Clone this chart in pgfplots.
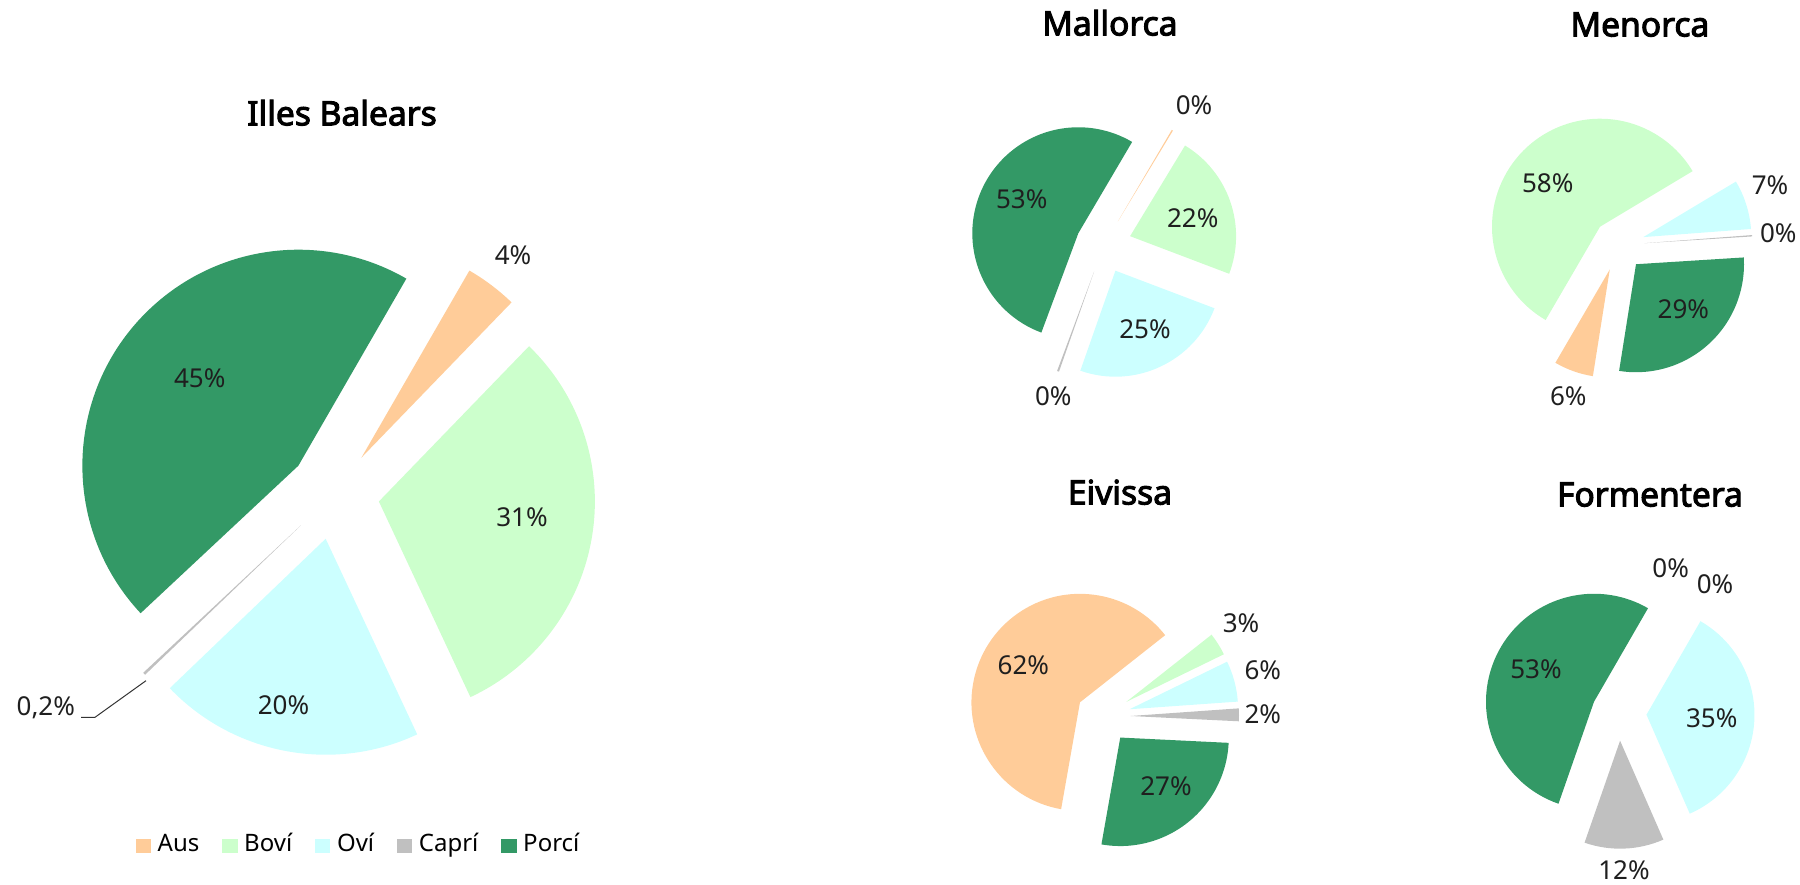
\documentclass[border=0pt]{standalone}
\usepackage{pgfplots}
\pgfplotsset{compat=1.18}
\usepackage{pgfplotstable}
\usepackage{fontspec}
\setmainfont{Noto Sans}[AutoFakeBold=3]
\definecolor{c0}{HTML}{FFCC99}
\definecolor{c1}{HTML}{CCFFCC}
\definecolor{c2}{HTML}{CCFFFF}
\definecolor{c3}{HTML}{C0C0C0}
\definecolor{c4}{HTML}{339966}

% columns: category, share (%), printed label, label position (reference pixels, y downward)
\pgfplotstableread{
cat val lab lx ly
Aus 3.9 4 513 257
Bovi 30.8 31 522 519
Ovi 19.8 20 283.5 707
Capri 0.2 0,2 45.8 708.3
Porci 45.3 45 199.7 380
}\balears
\pgfplotstableread{
cat val lab lx ly
Aus 0.2 0 1194 107.3
Bovi 22.1 22 1192.7 220
Ovi 24.6 25 1145 331.7
Capri 0.3 0 1053.3 398.3
Porci 52.8 53 1021.7 201.7
}\mallorca
\pgfplotstableread{
cat val lab lx ly
Aus 5.9 6 1568.3 398.3
Bovi 58.0 58 1547.7 185
Ovi 7.4 7 1770 187.7
Capri 0.2 0 1778.3 235
Porci 28.5 29 1683.3 311.7
}\menorca
\pgfplotstableread{
cat val lab lx ly
Aus 61.6 62 1023.3 667.3
Bovi 3.4 3 1241 625.7
Ovi 6.1 6 1262.8 672.7
Capri 1.9 2 1262.8 716.3
Porci 27.0 27 1166 788.3
}\eivissa
\pgfplotstableread{
cat val lab lx ly
Aus 0 0 1670.7 570
Bovi 0 0 1715 586.7
Ovi 35.1 35 1711.7 720
Capri 11.9 12 1624 872
Porci 53.0 53 1536 671.7
}\formentera

% #1 table, #2 centre x, #3 centre y (pixels, downward), #4 radius, #5 explosion, #6 first slice bearing
\newcommand\pie[6]{%
  \pgfplotstablegetrowsof{#1}%
  \pgfmathtruncatemacro\pieLast{\pgfplotsretval-1}%
  \pgfmathsetmacro\pieCur{#6}%
  \pgfmathsetmacro\pieRR{#4*0.5}%
  \pgfplotsforeachungrouped \pieIdx in {0,...,\pieLast}{%
    \pgfplotstablegetelem{\pieIdx}{val}\of{#1}\let\pieVal\pgfplotsretval
    \pgfmathsetmacro\pieNext{\pieCur+3.6*\pieVal}%
    \pgfmathsetmacro\pieTa{90-\pieCur}%
    \pgfmathsetmacro\pieTb{90-\pieNext}%
    \pgfmathsetmacro\pieTm{90-(\pieCur+\pieNext)/2}%
    \pgfmathsetmacro\pieAx{#2+#5*cos(\pieTm)}%
    \pgfmathsetmacro\pieAy{884-#3+#5*sin(\pieTm)}%
    \pgfmathsetmacro\piePx{\pieAx+#4*cos(\pieTa)}%
    \pgfmathsetmacro\piePy{\pieAy+#4*sin(\pieTa)}%
    \pgfmathtruncatemacro\piePos{\pieVal>0}%
    \ifnum\piePos=1
      \edef\pieDo{\noexpand\fill[c\pieIdx] (axis cs:\pieAx,\pieAy) -- (axis cs:\piePx,\piePy) arc[start angle=\pieTa, end angle=\pieTb, radius=\pieRR pt] -- cycle;}%
      \pieDo
    \fi
    \pgfplotstablegetelem{\pieIdx}{lab}\of{#1}\let\pieLab\pgfplotsretval
    \pgfplotstablegetelem{\pieIdx}{lx}\of{#1}\let\pieLx\pgfplotsretval
    \pgfplotstablegetelem{\pieIdx}{ly}\of{#1}\let\pieLy\pgfplotsretval
    \pgfmathsetmacro\pieLyy{884-\pieLy}%
    \edef\pieDo{\noexpand\node[lbl] at (axis cs:\pieLx,\pieLyy) {\pieLab\noexpand\%};}%
    \pieDo
    \let\pieCur\pieNext
  }%
}

\begin{document}
\begin{tikzpicture}[
  lbl/.style={font=\fontsize{13}{15}\selectfont, text=black!88, inner sep=0pt, anchor=center, text height=0.714em, text depth=0pt},
  ttl/.style={font=\fontsize{16.8}{19}\selectfont\bfseries, text=black, inner sep=0pt, anchor=center, text height=0.714em, text depth=0pt}]
\begin{axis}[
  x=0.5pt, y=0.5pt,
  xmin=0, xmax=1800, ymin=0, ymax=884,
  hide axis, clip=false,
  legend columns=5,
  legend cell align=left,
  legend style={at={(0.1986,0.0430)}, anchor=center, draw=none, fill=none,
    font=\fontsize{12}{14}\selectfont,
    nodes={inner sep=0pt, text height=0.83em, text depth=0.25em},
    /tikz/every odd column/.append style={column sep=3.4pt},
    /tikz/every even column/.append style={column sep=11.3pt}},
]
\addlegendimage{legend image code/.code={\fill[c0] (0pt,-3.4pt) rectangle (7.3pt,3.4pt);}}
\addlegendentry{Aus}
\addlegendimage{legend image code/.code={\fill[c1] (0pt,-3.4pt) rectangle (7.3pt,3.4pt);}}
\addlegendentry{Boví}
\addlegendimage{legend image code/.code={\fill[c2] (0pt,-3.4pt) rectangle (7.3pt,3.4pt);}}
\addlegendentry{Oví}
\addlegendimage{legend image code/.code={\fill[c3] (0pt,-3.4pt) rectangle (7.3pt,3.4pt);}}
\addlegendentry{Caprí}
\addlegendimage{legend image code/.code={\fill[c4] (0pt,-3.4pt) rectangle (7.3pt,3.4pt);}}
\addlegendentry{Porcí}

\pie{\balears}{334}{494}{216}{45.5}{30}
\pie{\mallorca}{1103.6}{245.3}{106}{28}{30.5}
\pie{\menorca}{1618.5}{245}{108}{26}{189}
\pie{\eivissa}{1103.3}{716.3}{108.5}{27.2}{190}
\pie{\formentera}{1619}{713.2}{108}{27.5}{30}

\draw[black!80, line width=0.5pt] (axis cs:81,166.7) -- (axis cs:95,166.7) -- (axis cs:146,203.3);

\node[ttl] at (axis cs:342,765.8) {Illes Balears};
\node[ttl] at (axis cs:1110,855.7) {Mallorca};
\node[ttl] at (axis cs:1640,854.7) {Menorca};
\node[ttl] at (axis cs:1120,386.7) {Eivissa};
\node[ttl] at (axis cs:1650,384.7) {Formentera};
\end{axis}
\pgfresetboundingbox
\path[use as bounding box] (current axis.south west) rectangle (current axis.north east);
\end{tikzpicture}
\end{document}
